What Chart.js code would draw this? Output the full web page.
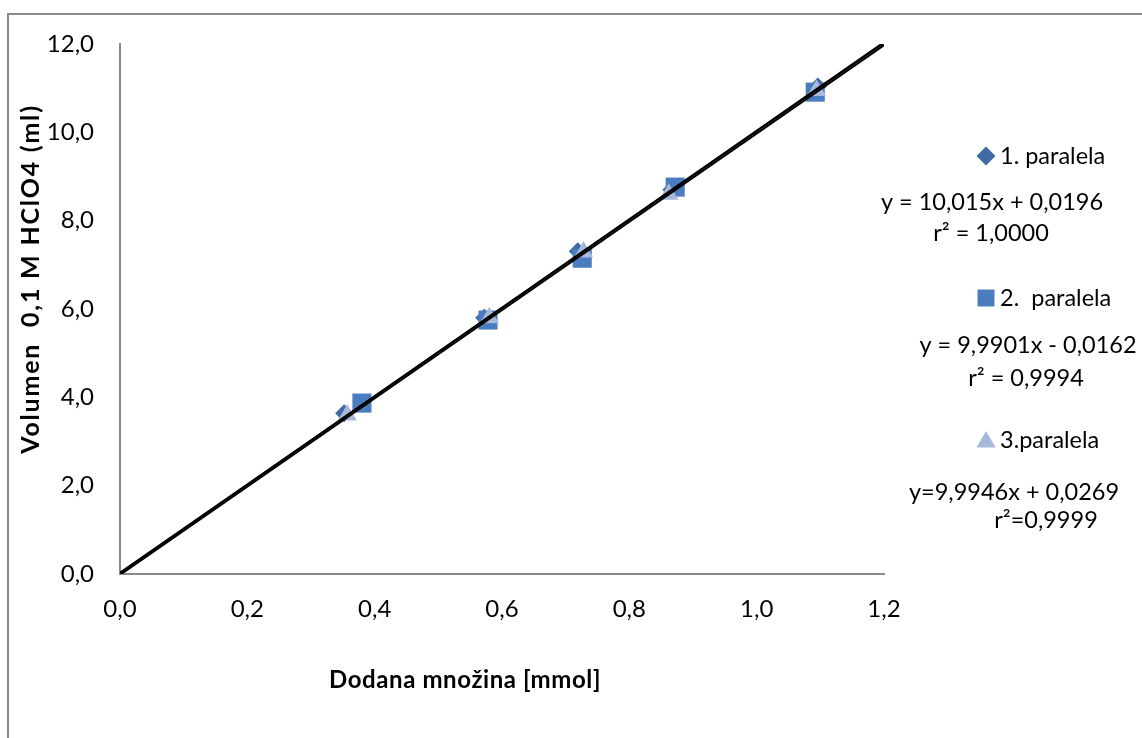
<!DOCTYPE html>
<html lang="sl">
<head>
<meta charset="UTF-8">
<script src="https://cdn.jsdelivr.net/npm/chart.js"></script>
<title>Titracija</title>
<style>
  body { margin: 0; background: #fff; overflow: hidden; }
  .okvir { position: absolute; left: 7px; top: 13px; width: 1300px; height: 900px; border: 2px solid #8c8c8c; }
  #graf { position: absolute; left: 0; top: 0; }
</style>
</head>
<body>
<div class="okvir"></div>
<canvas id="graf" width="1142" height="738"></canvas>
<script>
// podatki (odčitani z grafa)
const s1X = [0.352, 0.572, 0.719, 0.866, 1.096];
const s1Y = [3.64, 5.80, 7.31, 8.70, 11.04];
const s2X = [0.380, 0.578, 0.726, 0.872, 1.092];
const s2Y = [3.87, 5.75, 7.15, 8.76, 10.91];
const s3X = [0.357, 0.580, 0.728, 0.862, 1.094];
const s3Y = [3.60, 5.80, 7.29, 8.60, 10.95];

// trendne črte - konca pri x = 0 in x = 1,2
const trendX = [0, 1.2];
const trend1Y = [0.02, 12.04];
const trend2Y = [-0.02, 11.97];
const trend3Y = [0.03, 12.02];

const imena = ['1. paralela', '2.  paralela', '3.paralela'];
const enacbe = ['y = 10,015x + 0,0196', 'y = 9,9901x - 0,0162', 'y=9,9946x + 0,0269'];
const r2 = ['r² = 1,0000', 'r² = 0,9994', 'r²=0,9999'];

const xTicks = ['0,0', '0,2', '0,4', '0,6', '0,8', '1,0', '1,2'];
const yTicks = ['0,0', '2,0', '4,0', '6,0', '8,0', '10,0', '12,0'];

const barve = ['#3f6aa3', '#4a7dbf', '#a7b8da'];
const oblike = ['rectRot', 'rect', 'triangle'];
const velikosti = [9, 13.5, 11];

const tocke = (xs, ys) => xs.map((x, i) => ({ x: x, y: ys[i] }));

const pisava = 'Lato, "Open Sans", sans-serif';

// legenda in naslovi osi
const dodatki = {
  id: 'dodatki',
  afterDraw(chart) {
    const ctx = chart.ctx;
    ctx.save();
    ctx.fillStyle = '#000';
    ctx.textBaseline = 'middle';

    ctx.font = 'bold 24px ' + pisava;
    ctx.textAlign = 'center';
    ctx.letterSpacing = '0.6px';
    ctx.fillText('Dodana množina [mmol]', 465, 680);
    ctx.save();
    ctx.translate(31, 279);
    ctx.rotate(-Math.PI / 2);
    ctx.font = 'bold 25px ' + pisava;
    ctx.letterSpacing = '1.8px';
    ctx.fillText('Volumen  0,1 M HClO4 (ml)', 0, 0);
    ctx.restore();
    ctx.letterSpacing = '0px';

    const oznakaY = [156, 298, 440];
    const enacbaX = [992, 1028, 1014];
    const enacbaY = [202, 345, 492];
    const r2X = [991, 1026, 1046];
    const r2Y = [233, 378, 520];
    ctx.font = '23.5px ' + pisava;
    for (let i = 0; i < 3; i++) {
      ctx.fillStyle = barve[i];
      Chart.helpers.drawPoint(ctx, { pointStyle: oblike[i], radius: i === 1 ? 12 : (i === 0 ? 9.5 : 11), rotation: 0, borderWidth: 0 }, 986, oznakaY[i] + (i === 2 ? 2 : 0));
      ctx.fillStyle = '#000';
      ctx.textAlign = 'left';
      ctx.fillText(imena[i], 1000, oznakaY[i]);
      ctx.textAlign = 'center';
      ctx.fillText(enacbe[i], enacbaX[i], enacbaY[i]);
      ctx.fillText(r2[i], r2X[i], r2Y[i]);
    }
    ctx.restore();
  }
};

const serija = (i, xs, ys) => ({
  label: imena[i],
  data: tocke(xs, ys),
  pointStyle: oblike[i],
  pointRadius: velikosti[i],
  pointHoverRadius: velikosti[i],
  backgroundColor: barve[i],
  borderColor: barve[i],
  borderWidth: 0,
  showLine: false,
  order: 3 - i
});

const trend = (ys) => ({
  type: 'line',
  data: tocke(trendX, ys),
  borderColor: '#000',
  borderWidth: 2,
  pointRadius: 0,
  fill: false,
  order: 0
});

new Chart(document.getElementById('graf'), {
  type: 'scatter',
  data: {
    datasets: [
      serija(0, s1X, s1Y),
      serija(1, s2X, s2Y),
      serija(2, s3X, s3Y),
      trend(trend1Y),
      trend(trend2Y),
      trend(trend3Y)
    ]
  },
  options: {
    responsive: false,
    animation: false,
    events: [],
    layout: { padding: { left: 0, top: 44, right: 258, bottom: 0 } },
    plugins: {
      legend: { display: false },
      tooltip: { enabled: false }
    },
    scales: {
      x: {
        type: 'linear',
        min: 0,
        max: 1.2,
        afterFit: (s) => { s.height = 164; },
        afterBuildTicks: (s) => { s.ticks = xTicks.map((t, i) => ({ value: i * 0.2 })); },
        grid: { display: false, drawTicks: false },
        border: { color: '#8a8a8a', width: 2 },
        ticks: {
          padding: 21,
          color: '#000',
          font: { family: pisava, size: 24 },
          callback: (v, i) => xTicks[i]
        }
      },
      y: {
        type: 'linear',
        min: 0,
        max: 12,
        afterFit: (s) => { s.width = 120; },
        afterBuildTicks: (s) => { s.ticks = yTicks.map((t, i) => ({ value: i * 2 })); },
        grid: { display: false, drawTicks: false },
        border: { color: '#8a8a8a', width: 2 },
        ticks: {
          padding: 26,
          color: '#000',
          font: { family: pisava, size: 24 },
          callback: (v, i) => yTicks[i]
        }
      }
    }
  },
  plugins: [dodatki]
});
</script>
</body>
</html>
